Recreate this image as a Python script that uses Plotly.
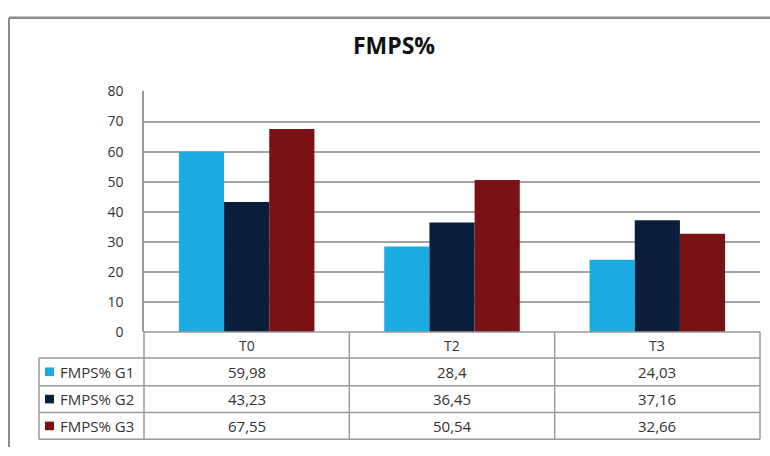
import plotly.graph_objects as go

categories = ["T0", "T2", "T3"]
series_names = ["FMPS% G1", "FMPS% G2", "FMPS% G3"]
g1 = [59.98, 28.4, 24.03]
g2 = [43.23, 36.45, 37.16]
g3 = [67.55, 50.54, 32.66]
value_labels = [["59,98", "28,4", "24,03"],
                ["43,23", "36,45", "37,16"],
                ["67,55", "50,54", "32,66"]]
colors = ["#1AABE3", "#0A1E3C", "#7A1114"]
y_ticks = [0, 10, 20, 30, 40, 50, 60, 70, 80]

W, H = 770, 456
def px(x):
    return x / W
def py(y):
    return 1 - y / H

# layout in pixels
PL, PR, PT, PB = 144, 760, 85, 336
TL = 39
row_lines = [336, 363, 392, 420, 448]
grid_col = "#A3A3A3"
border_col = "#9A9A9A"
txt_col = "#333333"
FONT = "Open Sans"

fig = go.Figure()
for name, vals, c in zip(series_names, [g1, g2, g3], colors):
    fig.add_trace(go.Bar(x=categories, y=vals, name=name, marker=dict(color=c, line=dict(width=0)),
                         showlegend=False))

shapes = []
# outer frame (top and left edges only visible)
shapes.append(dict(type="line", xref="paper", yref="paper", x0=px(9), x1=1, y0=py(8), y1=py(8),
                   line=dict(color="#8C8C8C", width=2.5)))
shapes.append(dict(type="line", xref="paper", yref="paper", x0=px(9), x1=px(9), y0=py(8), y1=0,
                   line=dict(color="#8C8C8C", width=2)))
# table horizontal lines
for i, yy in enumerate(row_lines):
    x0 = PL if i == 0 else TL
    shapes.append(dict(type="line", xref="paper", yref="paper", x0=px(x0), x1=px(PR), y0=py(yy), y1=py(yy),
                       line=dict(color=border_col, width=1.5)))
# table vertical lines
ncat = len(categories)
for k in range(ncat + 1):
    xx = PL + (PR - PL) * k / ncat
    shapes.append(dict(type="line", xref="paper", yref="paper", x0=px(xx), x1=px(xx), y0=py(336),
                       y1=py(row_lines[-1]), line=dict(color=border_col, width=1.5)))
shapes.append(dict(type="line", xref="paper", yref="paper", x0=px(TL), x1=px(TL), y0=py(363),
                   y1=py(row_lines[-1]), line=dict(color=border_col, width=1.5)))

annotations = []
# header row
for cat in categories:
    annotations.append(dict(x=cat, xref="x", y=py(350), yref="paper", text=cat, showarrow=False,
                            yanchor="middle", font=dict(family=FONT, size=14, color=txt_col)))
# data rows
for r, (name, c) in enumerate(zip(series_names, colors)):
    yc = (row_lines[r + 1] + row_lines[r + 2]) / 2
    shapes.append(dict(type="rect", xref="paper", yref="paper", x0=px(45), x1=px(54), y0=py(yc + 4.5),
                       y1=py(yc - 4.5), fillcolor=c, line=dict(width=0)))
    annotations.append(dict(x=px(58), xref="paper", y=py(yc), yref="paper", text=name, showarrow=False,
                            xanchor="left", yanchor="middle", font=dict(family=FONT, size=15, color=txt_col)))
    for j, cat in enumerate(categories):
        annotations.append(dict(x=cat, xref="x", y=py(yc), yref="paper", text=value_labels[r][j],
                                showarrow=False, yanchor="middle",
                                font=dict(family=FONT, size=15, color=txt_col)))

fig.update_layout(
    width=W, height=H,
    margin=dict(l=0, r=0, t=0, b=0),
    paper_bgcolor="white", plot_bgcolor="white",
    barmode="group", bargap=0.34, bargroupgap=0,
    title=dict(text="<b>FMPS%</b>", x=px(394), xanchor="center", y=py(46), yanchor="middle",
               font=dict(family=FONT, size=23, color="#111111")),
    xaxis=dict(domain=[px(PL), px(PR)], showticklabels=False, showgrid=False, zeroline=False,
               showline=False, ticks=""),
    yaxis=dict(domain=[py(PB), py(PT)], range=[0, 80], tickvals=y_ticks, showgrid=True,
               gridcolor=grid_col, gridwidth=1.5, zeroline=False, showline=True, linecolor=border_col,
               linewidth=1.5, ticks="", ticklabelstandoff=16,
               tickfont=dict(family=FONT, size=14, color=txt_col)),
    shapes=shapes, annotations=annotations,
)

fig.write_html("out.html", config={"displayModeBar": False},
               post_script="document.body.style.margin='0';document.body.style.overflow='hidden';")
